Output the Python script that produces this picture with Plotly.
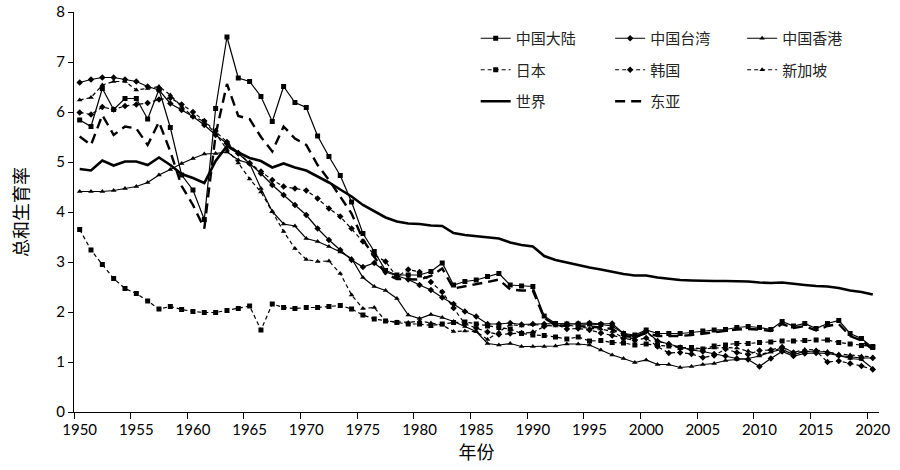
import plotly.graph_objects as go

years = list(range(1950, 2021))

china = [5.84, 5.71, 6.47, 6.05, 6.27, 6.27, 5.86, 6.45, 5.69, 4.74,
         4.44, 3.85, 6.07, 7.50, 6.68, 6.61, 6.31, 5.81, 6.51, 6.19,
         6.09, 5.52, 5.11, 4.73, 4.20, 3.57, 3.21, 2.83, 2.74, 2.74,
         2.74, 2.81, 2.98, 2.54, 2.61, 2.64, 2.71, 2.77, 2.54, 2.52,
         2.51, 1.92, 1.77, 1.76, 1.76, 1.76, 1.75, 1.72, 1.57, 1.54,
         1.64, 1.57, 1.57, 1.57, 1.59, 1.62, 1.64, 1.65, 1.69, 1.71,
         1.69, 1.65, 1.81, 1.72, 1.77, 1.67, 1.77, 1.83, 1.57, 1.47, 1.29]

taiwan = [6.59, 6.65, 6.69, 6.69, 6.65, 6.61, 6.51, 6.44, 6.17, 6.04,
          5.91, 5.74, 5.54, 5.37, 5.17, 4.97, 4.77, 4.54, 4.34, 4.14,
          3.94, 3.67, 3.44, 3.24, 3.04, 2.90, 2.98, 2.80, 2.72, 2.65,
          2.54, 2.44, 2.29, 2.16, 2.01, 1.91, 1.76, 1.76, 1.78, 1.75,
          1.76, 1.76, 1.76, 1.76, 1.77, 1.78, 1.76, 1.77, 1.57, 1.51,
          1.62, 1.42, 1.36, 1.29, 1.24, 1.21, 1.16, 1.12, 1.07, 1.05,
          0.91, 1.07, 1.21, 1.12, 1.17, 1.18, 1.17, 1.13, 1.10, 1.08, 1.08]

hongkong = [4.41, 4.41, 4.41, 4.43, 4.47, 4.51, 4.59, 4.74, 4.85, 4.97,
            5.07, 5.16, 5.17, 5.20, 5.04, 4.97, 4.47, 4.01, 3.76, 3.72,
            3.47, 3.41, 3.31, 3.20, 3.07, 2.69, 2.51, 2.43, 2.27, 1.94,
            1.87, 1.95, 1.89, 1.81, 1.71, 1.61, 1.37, 1.34, 1.37, 1.31,
            1.31, 1.31, 1.32, 1.36, 1.36, 1.34, 1.24, 1.14, 1.07, 0.99,
            1.04, 0.95, 0.95, 0.89, 0.91, 0.95, 0.97, 1.03, 1.05, 1.07,
            1.12, 1.20, 1.25, 1.15, 1.21, 1.20, 1.21, 1.13, 1.07, 1.05, 0.87]

japan = [3.65, 3.24, 2.95, 2.67, 2.47, 2.37, 2.22, 2.06, 2.11, 2.05,
         2.01, 1.99, 1.99, 2.03, 2.07, 2.12, 1.64, 2.16, 2.09, 2.07,
         2.09, 2.09, 2.11, 2.13, 2.06, 1.94, 1.86, 1.82, 1.79, 1.76,
         1.76, 1.73, 1.76, 1.79, 1.80, 1.76, 1.72, 1.69, 1.66, 1.57,
         1.54, 1.53, 1.50, 1.46, 1.50, 1.42, 1.43, 1.39, 1.38, 1.34,
         1.36, 1.33, 1.32, 1.29, 1.29, 1.26, 1.32, 1.34, 1.37, 1.37,
         1.39, 1.40, 1.42, 1.42, 1.43, 1.44, 1.44, 1.39, 1.36, 1.33, 1.31]

korea = [5.99, 5.95, 6.10, 6.05, 6.12, 6.15, 6.18, 6.25, 6.28, 6.15,
         6.00, 5.82, 5.62, 5.40, 5.18, 4.98, 4.81, 4.64, 4.51, 4.47,
         4.43, 4.27, 4.07, 3.91, 3.67, 3.41, 3.14, 3.01, 2.70, 2.85,
         2.80, 2.60, 2.40, 2.08, 1.76, 1.68, 1.60, 1.55, 1.57, 1.58,
         1.59, 1.71, 1.76, 1.66, 1.67, 1.64, 1.58, 1.53, 1.47, 1.43,
         1.48, 1.31, 1.18, 1.19, 1.16, 1.09, 1.13, 1.26, 1.19, 1.15,
         1.23, 1.24, 1.30, 1.19, 1.21, 1.22, 1.00, 1.02, 0.97, 0.92, 0.85]

singapore = [6.24, 6.29, 6.54, 6.61, 6.61, 6.44, 6.47, 6.51, 6.34, 6.11,
             5.91, 5.81, 5.57, 5.25, 4.98, 4.66, 4.40, 4.01, 3.61, 3.27,
             3.05, 3.01, 3.02, 2.77, 2.34, 2.07, 2.09, 1.82, 1.80, 1.79,
             1.82, 1.78, 1.74, 1.61, 1.62, 1.61, 1.45, 1.60, 1.75, 1.72,
             1.75, 1.73, 1.72, 1.74, 1.71, 1.67, 1.66, 1.61, 1.48, 1.47,
             1.60, 1.41, 1.37, 1.27, 1.26, 1.26, 1.28, 1.29, 1.28, 1.22,
             1.15, 1.20, 1.29, 1.19, 1.25, 1.24, 1.20, 1.16, 1.14, 1.12, 1.10]

world = [4.86, 4.83, 5.03, 4.93, 5.01, 5.01, 4.94, 5.09, 4.94, 4.76,
         4.68, 4.58, 5.02, 5.32, 5.19, 5.08, 5.02, 4.89, 4.97, 4.89,
         4.83, 4.71, 4.59, 4.45, 4.31, 4.14, 4.02, 3.89, 3.81, 3.77,
         3.76, 3.73, 3.72, 3.58, 3.54, 3.52, 3.50, 3.47, 3.39, 3.34,
         3.31, 3.12, 3.04, 2.99, 2.93, 2.89, 2.85, 2.80, 2.76, 2.73,
         2.73, 2.69, 2.66, 2.64, 2.63, 2.62, 2.62, 2.62, 2.62, 2.61,
         2.59, 2.58, 2.59, 2.56, 2.54, 2.52, 2.51, 2.48, 2.43, 2.40, 2.35]

east_asia = [5.51, 5.34, 5.94, 5.54, 5.71, 5.67, 5.34, 5.80, 5.21, 4.52,
             4.14, 3.67, 5.55, 6.56, 5.92, 5.86, 5.50, 5.21, 5.71, 5.47,
             5.34, 4.94, 4.64, 4.31, 3.97, 3.45, 3.10, 2.76, 2.66, 2.65,
             2.65, 2.72, 2.87, 2.47, 2.51, 2.55, 2.60, 2.65, 2.45, 2.43,
             2.43, 1.88, 1.74, 1.72, 1.72, 1.71, 1.69, 1.66, 1.52, 1.50,
             1.58, 1.52, 1.52, 1.52, 1.54, 1.57, 1.60, 1.62, 1.65, 1.66,
             1.65, 1.62, 1.76, 1.68, 1.72, 1.63, 1.72, 1.76, 1.52, 1.43, 1.25]

tick_years = list(range(1950, 2021, 5))
y_ticks = list(range(0, 9))

cjk = "Noto Sans CJK SC"
num_font = "Lato"
thin_dash = "4px,3px"

# name, values, line dash, line width, marker symbol, legend column
series = [
    ("世界", world, "solid", 2.6, None, "legend"),
    ("东亚", east_asia, "10px,6px", 2.4, None, "legend2"),
    ("日本", japan, thin_dash, 1.2, "square", "legend"),
    ("韩国", korea, thin_dash, 1.2, "diamond", "legend2"),
    ("新加坡", singapore, thin_dash, 1.2, "triangle-up", "legend3"),
    ("中国香港", hongkong, "solid", 1.2, "triangle-up", "legend3"),
    ("中国台湾", taiwan, "solid", 1.2, "diamond", "legend2"),
    ("中国大陆", china, "solid", 1.2, "square", "legend"),
]
legend_rank = {"中国大陆": 1, "中国台湾": 1, "中国香港": 1,
               "日本": 2, "韩国": 2, "新加坡": 2, "世界": 3, "东亚": 3}

fig = go.Figure()
for name, vals, dash, width, symbol, leg in series:
    fig.add_trace(go.Scatter(
        x=years, y=vals, name=name,
        mode="lines+markers" if symbol else "lines",
        line=dict(color="black", width=width, dash=dash),
        marker=dict(symbol=symbol or "circle", size=5, color="black"),
        legend=leg, legendgroup=name, legendrank=legend_rank[name],
    ))

leg_common = dict(orientation="v", xanchor="left", yanchor="top",
                  y=0.975, bgcolor="rgba(0,0,0,0)", tracegroupgap=9,
                  font=dict(family=cjk, size=15, color="#222"))

fig.update_layout(
    width=900, height=470,
    margin=dict(l=74, r=21, t=12, b=58),
    paper_bgcolor="white", plot_bgcolor="white",
    showlegend=True,
    legend=dict(x=0.499, **leg_common),
    legend2=dict(x=0.666, **leg_common),
    legend3=dict(x=0.83, **leg_common),
    xaxis=dict(
        range=[1949.5, 2020.55], automargin=False,
        tickvals=tick_years, ticktext=[str(t) for t in tick_years],
        ticks="outside", ticklen=4, tickcolor="rgba(0,0,0,0)",
        showgrid=False, zeroline=False,
        showline=True, linecolor="black", linewidth=1.3,
        tickfont=dict(family=num_font, size=15, color="black"),
        minor=dict(tick0=1949.5, dtick=5, ticks="outside", ticklen=6,
                   tickcolor="black", tickwidth=1.2, showgrid=False),
        title=dict(text="年份", font=dict(family=cjk, size=18, color="black"),
                   standoff=9),
    ),
    yaxis=dict(
        range=[0, 8], tickvals=y_ticks, ticks="outside", ticklen=5,
        tickcolor="black", tickwidth=1.2, automargin=False,
        ticklabeloverflow="allow",
        showgrid=False, zeroline=False,
        showline=True, linecolor="black", linewidth=1.3,
        tickfont=dict(family=num_font, size=15, color="black"),
        title=dict(text="总和生育率", font=dict(family=cjk, size=18, color="black"),
                   standoff=22),
    ),
)

# drop the page's default body margin so the figure sits at the window's corner
fig.write_html("out.html", config={"displayModeBar": False},
               post_script="document.body.style.margin = '0';")
